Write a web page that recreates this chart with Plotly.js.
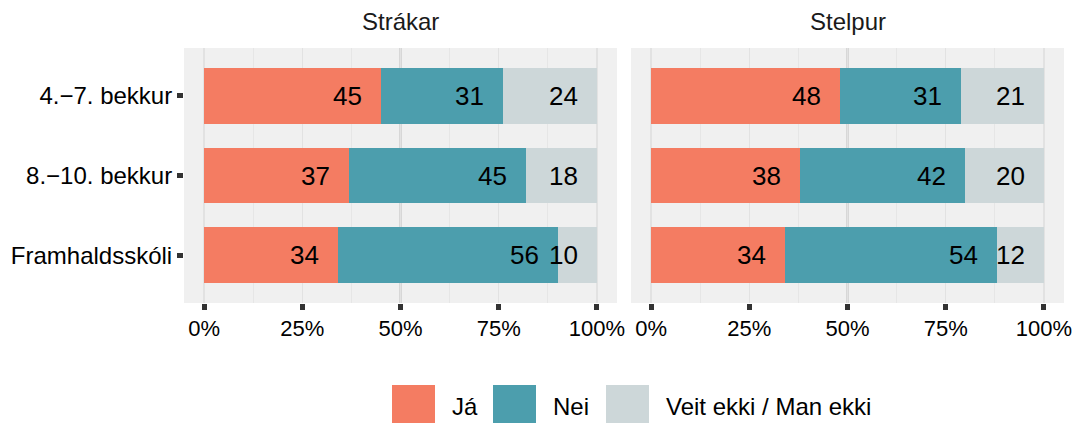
<!DOCTYPE html>
<html>
<head>
<meta charset="utf-8">
<script src="https://cdn.plot.ly/plotly-3.0.1.min.js"></script>
<style>html,body{margin:0;padding:0;background:#fff;}#chart{width:1075px;height:423px;}</style>
</head>
<body>
<div id="chart"></div>
<script>
const groups = ["4.−7. bekkur", "8.−10. bekkur", "Framhaldsskóli"];
const panels = ["Strákar", "Stelpur"];
const responses = ["Já", "Nei", "Veit ekki / Man ekki"];
const colors = ["#F47C62", "#4C9EAD", "#CDD7D9"];
const boysJa = [45, 37, 34];
const boysNei = [31, 45, 56];
const boysVeit = [24, 18, 10];
const girlsJa = [48, 38, 34];
const girlsNei = [31, 42, 54];
const girlsVeit = [21, 20, 12];
const xTickVals = [0, 25, 50, 75, 100];
const xTickText = ["0%", "25%", "50%", "75%", "100%"];

const W = 1075, H = 423;
const px = v => v / W;
const py = v => 1 - v / H;
const FONT = "Liberation Sans, Arial, sans-serif";

const panelData = [
  [boysJa, boysNei, boysVeit],
  [girlsJa, girlsNei, girlsVeit]
];
const axisIds = [["x", "y"], ["x2", "y2"]];

const traces = [];
const annotations = [];
panelData.forEach((series, p) => {
  const cum = groups.map(() => 0);
  series.forEach((vals, r) => {
    traces.push({
      type: "bar", orientation: "h",
      x: vals, y: groups,
      xaxis: axisIds[p][0], yaxis: axisIds[p][1],
      marker: {color: colors[r], line: {width: 0}},
      width: 0.7, name: responses[r], showlegend: false, hoverinfo: "skip"
    });
    vals.forEach((v, i) => {
      cum[i] += v;
      annotations.push({
        xref: axisIds[p][0], yref: axisIds[p][1],
        x: cum[i], y: groups[i], text: String(v),
        xanchor: "right", yanchor: "middle", xshift: -17,
        showarrow: false, font: {family: FONT, size: 26, color: "#000"}
      });
    });
  });
  annotations.push({
    xref: axisIds[p][0] + " domain", yref: "paper",
    x: 0.5, y: py(22), text: panels[p], xanchor: "center", yanchor: "middle",
    showarrow: false, font: {family: FONT, size: 24, color: "#1a1a1a"}
  });
});

// legend (custom, ggplot-style keys)
const legendKeys = [[392, 435], [493, 536], [606, 649]];
const shapes = [];
responses.forEach((r, i) => {
  shapes.push({type: "rect", xref: "paper", yref: "paper",
    x0: px(legendKeys[i][0]), x1: px(legendKeys[i][1]), y0: py(423), y1: py(385),
    fillcolor: colors[i], line: {width: 0}});
  annotations.push({xref: "paper", yref: "paper", x: px(legendKeys[i][1] + 15), y: py(406),
    text: r, xanchor: "left", yanchor: "middle", showarrow: false,
    font: {family: FONT, size: 24, color: "#000"}});
});
// 50% reference line
["x", "x2"].forEach(xa => {
  shapes.push({type: "line", xref: xa, yref: (xa === "x" ? "y" : "y2") + " domain",
    x0: 50, x1: 50, y0: 0, y1: 1, layer: "below", line: {color: "#BEBEBE", width: 2}});
});

const xBase = {
  range: [-5.1, 105.1], fixedrange: true,
  tickvals: xTickVals, ticktext: xTickText,
  ticks: "outside", ticklen: 6, tickwidth: 5, tickcolor: "#333",
  tickfont: {family: FONT, size: 22, color: "#000"},
  showgrid: true, gridcolor: "#E2E2E2", gridwidth: 1.5,
  minor: {tickvals: [12.5, 37.5, 62.5, 87.5], showgrid: true, gridcolor: "#E6E6E6", gridwidth: 1, ticks: ""},
  zeroline: false, showline: false
};
const yDomain = [120 / H, 375 / H];
const yBase = {
  type: "category", categoryarray: groups, range: [2.6, -0.6], autorange: false,
  domain: yDomain, fixedrange: true, showgrid: false, zeroline: false, showline: false
};

const layout = {
  width: W, height: H,
  margin: {l: 0, r: 0, t: 0, b: 0},
  paper_bgcolor: "#fff", plot_bgcolor: "#F0F0F0",
  barmode: "stack", bargap: 0.3,
  font: {family: FONT, color: "#000"},
  showlegend: false,
  xaxis: Object.assign({}, xBase, {domain: [px(184), px(617)], anchor: "y"}),
  xaxis2: Object.assign({}, xBase, {domain: [px(631), px(1064)], anchor: "y2"}),
  yaxis: Object.assign({}, yBase, {anchor: "x",
    ticks: "outside", ticklen: 6, tickwidth: 5, tickcolor: "#333",
    tickfont: {family: FONT, size: 24, color: "#000"}}),
  yaxis2: Object.assign({}, yBase, {anchor: "x2", showticklabels: false, ticks: ""}),
  annotations: annotations,
  shapes: shapes
};

Plotly.newPlot("chart", traces, layout, {displayModeBar: false, staticPlot: true});
</script>
</body>
</html>
